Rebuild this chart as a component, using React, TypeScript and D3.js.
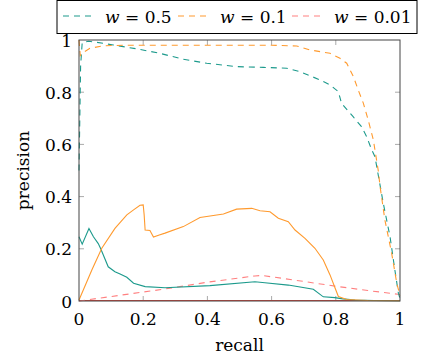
import React from "react";
import * as d3 from "d3";

const tealSolidR = [0, 0.01, 0.031, 0.045, 0.06, 0.068, 0.091, 0.112, 0.128, 0.149, 0.17, 0.206, 0.268, 0.408, 0.548, 0.579, 0.652, 0.73, 0.761, 0.797, 0.822, 0.86, 0.92, 1];
const tealSolidP = [0.246, 0.218, 0.278, 0.246, 0.22, 0.199, 0.131, 0.112, 0.103, 0.091, 0.068, 0.055, 0.051, 0.059, 0.074, 0.07, 0.061, 0.045, 0.016, 0.013, 0.008, 0.004, 0.002, 0.001];

const orangeSolidR = [0, 0.04, 0.071, 0.112, 0.149, 0.17, 0.19, 0.2, 0.203, 0.206, 0.221, 0.232, 0.25, 0.268, 0.325, 0.377, 0.45, 0.491, 0.538, 0.564, 0.595, 0.621, 0.652, 0.673, 0.704, 0.735, 0.761, 0.782, 0.798, 0.808, 0.834, 0.9, 1];
const orangeSolidP = [0.004, 0.119, 0.202, 0.278, 0.33, 0.349, 0.367, 0.368, 0.33, 0.272, 0.27, 0.245, 0.253, 0.26, 0.285, 0.32, 0.333, 0.352, 0.355, 0.346, 0.342, 0.317, 0.304, 0.272, 0.24, 0.202, 0.157, 0.1, 0.049, 0.017, 0.006, 0.002, 0.001];

const redSolidR = [0, 0.5, 1];
const redSolidP = [0.002, 0.002, 0.002];

const tealDashR = [0, 0.005, 0.01, 0.03, 0.045, 0.107, 0.18, 0.252, 0.325, 0.398, 0.491, 0.574, 0.647, 0.688, 0.751, 0.782, 0.808, 0.818, 0.854, 0.88, 0.896, 0.912, 0.922, 0.948, 0.969, 0.984, 0.995, 1];
const tealDashP = [0.5, 0.9, 0.99, 0.995, 0.993, 0.981, 0.966, 0.949, 0.926, 0.911, 0.898, 0.895, 0.892, 0.879, 0.847, 0.828, 0.802, 0.757, 0.706, 0.668, 0.63, 0.579, 0.553, 0.374, 0.246, 0.119, 0.03, 0.01];

const orangeDashR = [0, 0.004, 0.013, 0.034, 0.076, 0.149, 0.4, 0.6, 0.678, 0.72, 0.782, 0.813, 0.834, 0.855, 0.87, 0.886, 0.901, 0.917, 0.932, 0.938, 0.953, 0.974, 0.99, 1];
const orangeDashP = [1, 0.94, 0.952, 0.968, 0.978, 0.98, 0.98, 0.98, 0.977, 0.962, 0.949, 0.93, 0.911, 0.859, 0.808, 0.757, 0.693, 0.617, 0.502, 0.438, 0.31, 0.183, 0.068, 0.02];

const redDashR = [0, 0.268, 0.4, 0.548, 0.57, 0.7, 0.797, 0.9, 1];
const redDashP = [0, 0.046, 0.072, 0.096, 0.098, 0.075, 0.057, 0.04, 0.025];

const xTicks = [0, 0.2, 0.4, 0.6, 0.8, 1];
const yTicks = [0, 0.2, 0.4, 0.6, 0.8, 1];
const xTickLabels = ["0", "0.2", "0.4", "0.6", "0.8", "1"];
const yTickLabels = ["0", "0.2", "0.4", "0.6", "0.8", "1"];

const legendLabels = ["0.5", "0.1", "0.01"];

const TEAL = "#1c9a8c";
const ORANGE = "#ff9a2e";
const PINK = "#ff8080";
const RED = "#e0483c";

export default function App() {
  const left = 79, right = 400, top = 40, bottom = 301;
  const x = d3.scaleLinear().domain([0, 1]).range([left, right]);
  const y = d3.scaleLinear().domain([0, 1]).range([bottom, top]);
  const line = d3.line<[number, number]>().x(d => x(d[0])).y(d => y(d[1]));
  const mk = (r: number[], p: number[]) => line(r.map((v, i) => [v, p[i]] as [number, number])) || "";

  const series = [
    { r: redSolidR, p: redSolidP, c: RED, dash: undefined },
    { r: redDashR, p: redDashP, c: PINK, dash: "6 5" },
    { r: tealSolidR, p: tealSolidP, c: TEAL, dash: undefined },
    { r: orangeSolidR, p: orangeSolidP, c: ORANGE, dash: undefined },
    { r: tealDashR, p: tealDashP, c: TEAL, dash: "6 5" },
    { r: orangeDashR, p: orangeDashP, c: ORANGE, dash: "6 5" },
  ];

  const tstyle: React.CSSProperties = { fontFamily: "'DejaVu Serif', serif", fontSize: "17px" };
  const legendX = [63, 178, 292];
  const legendColors = [TEAL, ORANGE, PINK];

  return (
    <svg width={423} height={359} style={{ position: "absolute", left: 0, top: 0, background: "#fff" }}>
      <rect x={0} y={0} width={423} height={359} fill="#fff" />
      {xTicks.slice(1, -1).map((t, i) => (
        <g key={"xt" + i} stroke="#aaa" strokeWidth={1}>
          <line x1={x(t)} x2={x(t)} y1={bottom} y2={bottom - 5} />
          <line x1={x(t)} x2={x(t)} y1={top} y2={top + 5} />
        </g>
      ))}
      {yTicks.slice(1, -1).map((t, i) => (
        <g key={"yt" + i} stroke="#aaa" strokeWidth={1}>
          <line x1={left} x2={left + 5} y1={y(t)} y2={y(t)} />
          <line x1={right} x2={right - 5} y1={y(t)} y2={y(t)} />
        </g>
      ))}
      <g fill="none">
        {series.map((s, i) => (
          <path key={i} d={mk(s.r, s.p)} stroke={s.c} strokeWidth={1.1} strokeDasharray={s.dash} />
        ))}
      </g>
      <rect x={left} y={top} width={right - left} height={bottom - top} fill="none" stroke="#444" strokeWidth={1} />
      {xTicks.map((t, i) => (
        <text key={"xl" + i} x={x(t)} y={325} textAnchor="middle" style={tstyle} fill="#000">{xTickLabels[i]}</text>
      ))}
      {yTicks.map((t, i) => (
        <text key={"yl" + i} x={72} y={y(t) + 6.5} textAnchor="end" style={tstyle} fill="#000">{yTickLabels[i]}</text>
      ))}
      <text x={(left + right) / 2} y={351} textAnchor="middle" style={tstyle} fill="#000">recall</text>
      <text transform={`translate(29,${(top + bottom) / 2}) rotate(-90)`} textAnchor="middle" style={tstyle} fill="#000">precision</text>
      <rect x={57} y={0.5} width={360} height={33} fill="#fff" stroke="#000" strokeWidth={1} />
      {legendLabels.map((l, i) => (
        <g key={"lg" + i}>
          <line x1={legendX[i]} x2={legendX[i] + 32} y1={16} y2={16} stroke={legendColors[i]} strokeWidth={1.1} strokeDasharray="6 5" />
          <text x={legendX[i] + 42} y={23} style={tstyle} fill="#000">
            <tspan fontStyle="italic">w</tspan>
            <tspan> = {l}</tspan>
          </text>
        </g>
      ))}
    </svg>
  );
}
